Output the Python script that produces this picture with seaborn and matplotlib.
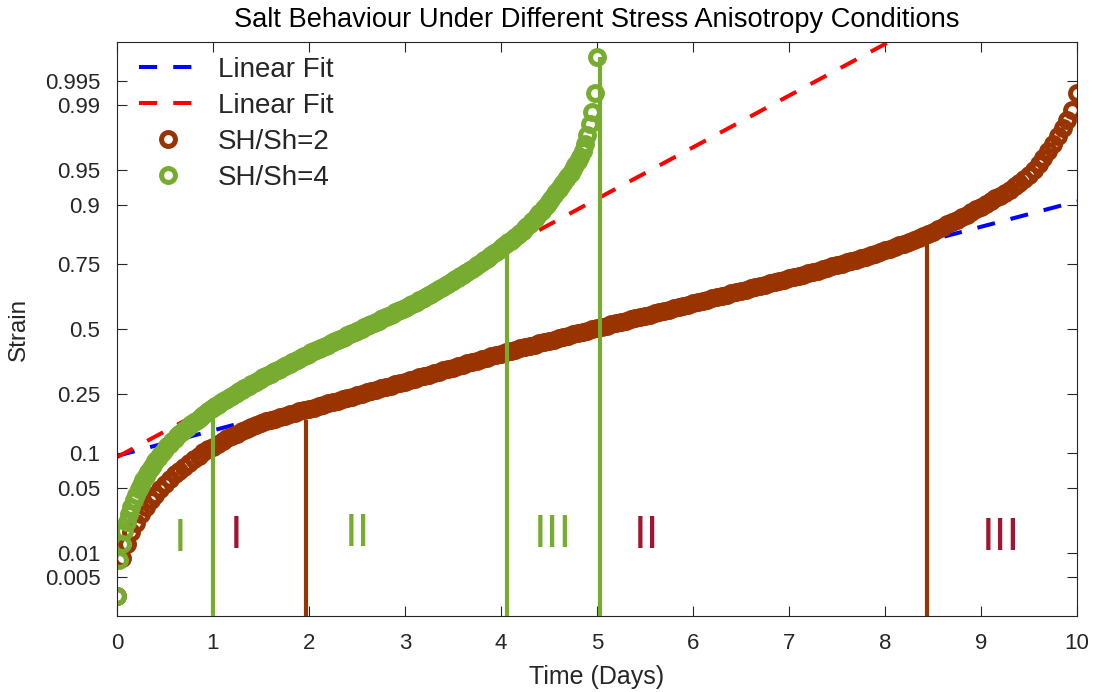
import numpy as np
import pandas as pd
import matplotlib
matplotlib.use("Agg")
import matplotlib.pyplot as plt
import matplotlib.scale as mscale
import matplotlib.transforms as mtransforms
from matplotlib.ticker import FixedLocator, FixedFormatter, NullLocator
from statistics import NormalDist
import seaborn as sns

# ---------------- data ----------------
# SH/Sh = 2 : time step 0.05 d, 0 .. 10 d
time_sh2 = np.round(np.arange(201) * 0.05, 3)
strain_sh2 = [
    0.00281, 0.00868, 0.01289, 0.01744, 0.02224, 0.02747, 0.03216, 0.03758, 0.04277, 0.04849,
    0.05373, 0.05942, 0.06556, 0.07084, 0.07642, 0.08231, 0.08851, 0.09348, 0.10034, 0.10565,
    0.11130, 0.11707, 0.12307, 0.12825, 0.13355, 0.13903, 0.14462, 0.14922, 0.15394, 0.15866,
    0.16362, 0.16858, 0.17236, 0.17626, 0.18016, 0.18406, 0.18814, 0.19222, 0.19630, 0.20050,
    0.20334, 0.20732, 0.21158, 0.21570, 0.21984, 0.22397, 0.22847, 0.23276, 0.23705, 0.24135,
    0.24577, 0.25054, 0.25499, 0.25949, 0.26408, 0.26867, 0.27359, 0.27831, 0.28304, 0.28778,
    0.29290, 0.29776, 0.30298, 0.30784, 0.31317, 0.31816, 0.32351, 0.32855, 0.33401, 0.33911,
    0.34458, 0.34979, 0.35536, 0.36057, 0.36620, 0.37149, 0.37717, 0.38247, 0.38823, 0.39361,
    0.39937, 0.40440, 0.40946, 0.41490, 0.41996, 0.42506, 0.43017, 0.43567, 0.44078, 0.44592,
    0.45107, 0.45661, 0.46176, 0.46693, 0.47210, 0.47767, 0.48285, 0.48804, 0.49322, 0.49880,
    0.50399, 0.50917, 0.51436, 0.51914, 0.52432, 0.52949, 0.53466, 0.53943, 0.54458, 0.54973,
    0.55487, 0.55962, 0.56473, 0.56983, 0.57494, 0.57965, 0.58471, 0.58976, 0.59482, 0.59948,
    0.60447, 0.60946, 0.61445, 0.61942, 0.62434, 0.62926, 0.63418, 0.63906, 0.64389, 0.64873,
    0.65356, 0.65834, 0.66307, 0.66781, 0.67255, 0.67720, 0.68184, 0.68647, 0.69110, 0.69563,
    0.70015, 0.70467, 0.70918, 0.71391, 0.71865, 0.72338, 0.72805, 0.73264, 0.73756, 0.74215,
    0.74692, 0.75137, 0.75582, 0.76019, 0.76448, 0.76908, 0.77367, 0.77839, 0.78312, 0.78784,
    0.79240, 0.79723, 0.80206, 0.80696, 0.81213, 0.81724, 0.82270, 0.82816, 0.83340, 0.83861,
    0.84370, 0.84960, 0.85538, 0.86097, 0.86645, 0.87175, 0.87693, 0.88233, 0.88757, 0.89284,
    0.89789, 0.90285, 0.90751, 0.91227, 0.91692, 0.92141, 0.92604, 0.93050, 0.93506, 0.94001,
    0.94520, 0.95102, 0.95678, 0.96242, 0.96784, 0.97285, 0.97751, 0.98144, 0.98497, 0.98838,
    0.99286,
]

# SH/Sh = 4 : time step 0.025 d, 0 .. 5 d
time_sh4 = np.round(np.arange(201) * 0.025, 3)
strain_sh4 = [
    0.00281, 0.00820, 0.01289, 0.01786, 0.02275, 0.02747, 0.03216, 0.03758, 0.04277, 0.04800,
    0.05320, 0.05826, 0.06369, 0.06883, 0.07425, 0.07931, 0.08463, 0.09017, 0.09597, 0.10122,
    0.10659, 0.11224, 0.11707, 0.12207, 0.12719, 0.13249, 0.13791, 0.14238, 0.14686, 0.15158,
    0.15630, 0.16114, 0.16610, 0.17106, 0.17626, 0.18146, 0.18678, 0.19222, 0.19766, 0.20334,
    0.20760, 0.21186, 0.21659, 0.22131, 0.22604, 0.23062, 0.23521, 0.23981, 0.24450, 0.24927,
    0.25404, 0.25883, 0.26375, 0.26867, 0.27327, 0.27831, 0.28304, 0.28812, 0.29290, 0.29811,
    0.30298, 0.30750, 0.31210, 0.31674, 0.32137, 0.32600, 0.33073, 0.33547, 0.34021, 0.34495,
    0.34979, 0.35462, 0.35945, 0.36431, 0.36922, 0.37452, 0.37944, 0.38439, 0.38939, 0.39438,
    0.39937, 0.40401, 0.40829, 0.41296, 0.41763, 0.42231, 0.42663, 0.43135, 0.43606, 0.44078,
    0.44513, 0.44988, 0.45463, 0.45938, 0.46375, 0.46852, 0.47330, 0.47807, 0.48245, 0.48724,
    0.49202, 0.49681, 0.50160, 0.50638, 0.51117, 0.51595, 0.52074, 0.52551, 0.53028, 0.53506,
    0.53983, 0.54458, 0.54933, 0.55408, 0.55883, 0.56355, 0.56826, 0.57298, 0.57769, 0.58237,
    0.58704, 0.59210, 0.59715, 0.60217, 0.60716, 0.61215, 0.61714, 0.62245, 0.62775, 0.63305,
    0.63832, 0.64352, 0.64873, 0.65393, 0.65943, 0.66489, 0.67036, 0.67578, 0.68112, 0.68647,
    0.69181, 0.69702, 0.70258, 0.70814, 0.71357, 0.71899, 0.72440, 0.72969, 0.73493, 0.74051,
    0.74596, 0.75137, 0.75677, 0.76203, 0.76724, 0.77276, 0.77810, 0.78341, 0.78871, 0.79410,
    0.79950, 0.80479, 0.80996, 0.81540, 0.82062, 0.82582, 0.83092, 0.83613, 0.84134, 0.84653,
    0.85196, 0.85739, 0.86299, 0.86836, 0.87387, 0.87933, 0.88473, 0.89002, 0.89541, 0.90090,
    0.90652, 0.91196, 0.91707, 0.92199, 0.92674, 0.93131, 0.93569, 0.93989, 0.94393, 0.94776,
    0.95151, 0.95543, 0.95931, 0.96324, 0.96784, 0.97285, 0.97802, 0.98318, 0.98793, 0.99275,
    0.99759,
]

# Linear fits (straight lines on the probability axis)
fit_blue_t = [0.0, 10.0]
fit_blue_strain = [0.09398, 0.90735]
fit_red_t = [0.0, 8.5]
fit_red_strain = [0.09183, 0.99937]

# Stage boundary markers
stage_t = [1.00, 1.97, 4.06, 5.03, 8.44]
stage_top = [0.17808, 0.17236, 0.79382, 0.99759, 0.81750]
stage_series = ["SH/Sh=4", "SH/Sh=2", "SH/Sh=4", "SH/Sh=4", "SH/Sh=2"]

# Stage labels
label_text = ["I", "I", "II", "III", "II", "III"]
label_t = [0.66, 1.24, 2.51, 4.54, 5.52, 9.21]
label_strain = [0.01064, 0.01155, 0.01219, 0.01200, 0.01140, 0.01080]
label_group = ["SH/Sh=4", "SH/Sh=2", "SH/Sh=4", "SH/Sh=4", "SH/Sh=2", "SH/Sh=2"]

ytick_vals = [0.005, 0.01, 0.05, 0.1, 0.25, 0.5, 0.75, 0.9, 0.95, 0.99, 0.995]
ytick_labels = ["0.005", "0.01", "0.05", "0.1", "0.25", "0.5", "0.75", "0.9", "0.95", "0.99", "0.995"]
xtick_vals = list(range(0, 11))

# ---------------- probability (probit) scale ----------------
_nd = NormalDist()
_ppf = np.vectorize(lambda p: _nd.inv_cdf(p), otypes=[float])
_cdf = np.vectorize(lambda z: _nd.cdf(z), otypes=[float])


class ProbitTransform(mtransforms.Transform):
    input_dims = output_dims = 1

    def transform_non_affine(self, a):
        a = np.asarray(a, dtype=float)
        if a.size == 0:
            return a.copy()
        return _ppf(np.clip(a, 1e-9, 1 - 1e-9))

    def inverted(self):
        return InvProbitTransform()


class InvProbitTransform(mtransforms.Transform):
    input_dims = output_dims = 1

    def transform_non_affine(self, a):
        a = np.asarray(a, dtype=float)
        if a.size == 0:
            return a.copy()
        return _cdf(a)

    def inverted(self):
        return ProbitTransform()


class ProbitScale(mscale.ScaleBase):
    name = "probit"

    def __init__(self, axis, **kwargs):
        super().__init__(axis)

    def get_transform(self):
        return ProbitTransform()

    def set_default_locators_and_formatters(self, axis):
        axis.set_major_locator(FixedLocator(ytick_vals))
        axis.set_major_formatter(FixedFormatter(ytick_labels))
        axis.set_minor_locator(NullLocator())

    def limit_range_for_scale(self, vmin, vmax, minpos):
        return max(vmin, 1e-9), min(vmax, 1 - 1e-9)


mscale.register_scale(ProbitScale)

# ---------------- style ----------------
sns.set_style("white")
plt.rcParams["font.family"] = ["Liberation Sans", "DejaVu Sans"]
axcol = (0.15, 0.15, 0.15)

colors = {"SH/Sh=2": "#993300", "SH/Sh=4": "#77AC30"}
roman_colors = {"SH/Sh=2": "#A2142F", "SH/Sh=4": "#77AC30"}

fig = plt.figure(figsize=(10.94, 6.92), dpi=100)
ax = fig.add_axes([117 / 1094, 1 - 616 / 692, 960 / 1094, 574 / 692])

lw_fit = 2.9
sns.lineplot(x=fit_blue_t, y=fit_blue_strain, ax=ax, color="#0000FF", linewidth=lw_fit,
             estimator=None, sort=False, label="Linear Fit")
ax.lines[-1].set_dashes([4.5, 4.0])
ax.lines[-1].set_dash_capstyle("butt")
sns.lineplot(x=fit_red_t, y=fit_red_strain, ax=ax, color="#FF0000", linewidth=lw_fit,
             estimator=None, sort=False, label="Linear Fit")
ax.lines[-1].set_dashes([4.5, 4.0])
ax.lines[-1].set_dash_capstyle("butt")

df2 = pd.DataFrame({"t": time_sh2, "strain": strain_sh2})
df4 = pd.DataFrame({"t": time_sh4, "strain": strain_sh4})
for name, df in (("SH/Sh=2", df2), ("SH/Sh=4", df4)):
    sns.lineplot(data=df, x="t", y="strain", ax=ax, estimator=None, sort=False,
                 linestyle="none", marker="o", markersize=10.0,
                 markerfacecolor="none", markeredgecolor=colors[name],
                 markeredgewidth=3.6, color=colors[name], label=name)

ax.set_yscale("probit")
ylo, yhi = 0.00145, 0.99855
ax.set_ylim(ylo, yhi)
ax.set_xlim(0, 10)

# stage boundary lines
for t, top, s in zip(stage_t, stage_top, stage_series):
    ax.plot([t, t], [ylo, top], color=colors[s], linewidth=3.0,
            solid_capstyle="butt", zorder=5)

# stage roman numerals
for txt, t, y, g in zip(label_text, label_t, label_strain, label_group):
    ax.text(t, y, txt, color=roman_colors[g], fontsize=33, ha="center",
            va="baseline", zorder=6)

ax.set_xticks(xtick_vals)
ax.set_xticklabels([str(v) for v in xtick_vals])
ax.yaxis.set_major_locator(FixedLocator(ytick_vals))
ax.yaxis.set_major_formatter(FixedFormatter(ytick_labels))

for sp in ax.spines.values():
    sp.set_visible(True)
    sp.set_color(axcol)
    sp.set_linewidth(0.8)
ax.tick_params(axis="both", which="major", direction="in", length=7, width=0.8,
               color=axcol, labelcolor=axcol, labelsize=16,
               top=True, right=True, bottom=True, left=True)
ax.tick_params(axis="y", pad=12)
ax.tick_params(axis="x", pad=12)

ax.set_xlabel("Time (Days)", fontsize=18, color=axcol, labelpad=8)
ax.set_ylabel("Strain", fontsize=17.5, color=axcol, labelpad=11)
ax.set_title("Salt Behaviour Under Different Stress Anisotropy Conditions",
             fontsize=19.6, color="black", pad=11)

leg = ax.legend(loc="upper left", frameon=False, fontsize=20,
                handlelength=2.1, handletextpad=0.75, labelspacing=0.36,
                borderaxespad=0.0, borderpad=0.0,
                bbox_to_anchor=(22 / 960, 1 - 15 / 574))

fig.savefig("out.png", dpi=100, facecolor="white")
